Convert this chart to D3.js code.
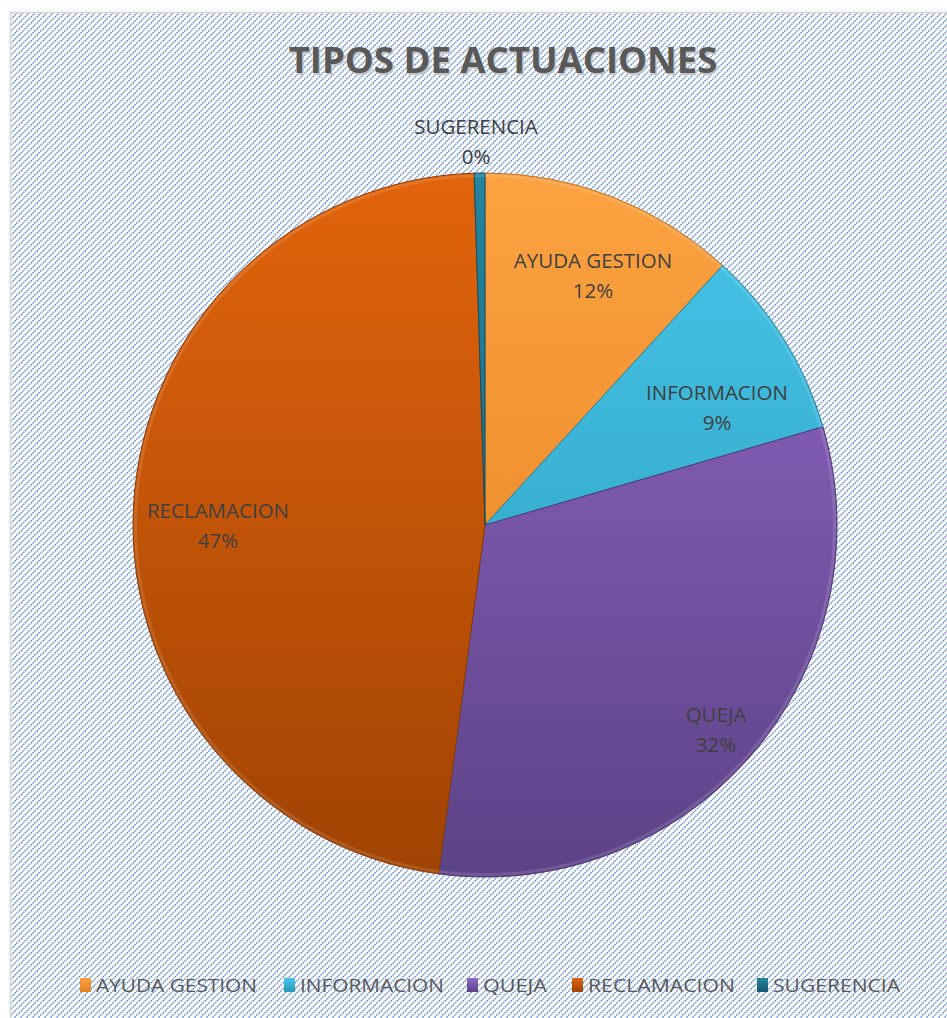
<!DOCTYPE html>
<html><head><meta charset="utf-8">
<script src="https://cdn.jsdelivr.net/npm/d3@7"></script>
<style>body{margin:0;background:#fff}svg{display:block}</style>
</head><body>
<script>
const categories = ["AYUDA GESTION","INFORMACION","QUEJA","RECLAMACION","SUGERENCIA"];
const values = [11.8, 8.7, 31.6, 47.4, 0.49];
const colorsTop = ["#fba241","#46c6ea","#9168c8","#e2640c","#2584a0"];
const colorsBot = ["#e5801f","#2a98b8","#5c4286","#a04303","#155a70"];
const title = "TIPOS DE ACTUACIONES";

const W = 947, H = 1018;
const svg = d3.select("body").append("svg").attr("width", W).attr("height", H);
const defs = svg.append("defs");

// hatch pattern
const P = 6;
const pat = defs.append("pattern").attr("id","hatch").attr("patternUnits","userSpaceOnUse")
  .attr("width",P).attr("height",P);
pat.append("rect").attr("width",P).attr("height",P).attr("fill","#ffffff");
pat.append("path").attr("d",`M-1,${P+1} L${P+1},-1 M-1,1 L1,-1 M${P-1},${P+1} L${P+1},${P-1}`)
  .attr("stroke","#5a88cc").attr("stroke-width",1.2).attr("stroke-dasharray","1.8,0.7");

svg.append("rect").attr("x",10.5).attr("y",12.5).attr("width",W).attr("height",H)
  .attr("fill","url(#hatch)").attr("stroke","#d4d4d4").attr("stroke-width",1.5);

const cx = 485, cy = 525, R = 352;

const pie = d3.pie().sort(null).value(d => d);
const arcs = pie(values);
const total = d3.sum(values);
const arc = d3.arc().innerRadius(0).outerRadius(R);

categories.forEach((c,i) => {
  const g = defs.append("linearGradient").attr("id","g"+i).attr("gradientUnits","userSpaceOnUse")
    .attr("x1",0).attr("y1",-R).attr("x2",0).attr("y2",R);
  g.append("stop").attr("offset","0%").attr("stop-color",colorsTop[i]);
  g.append("stop").attr("offset","100%").attr("stop-color",colorsBot[i]);
  const lg = defs.append("linearGradient").attr("id","lg"+i).attr("x1",0).attr("y1",0).attr("x2",0).attr("y2",1);
  lg.append("stop").attr("offset","0%").attr("stop-color",colorsTop[i]);
  lg.append("stop").attr("offset","100%").attr("stop-color",colorsBot[i]);
});

const pg = svg.append("g").attr("transform",`translate(${cx},${cy})`);
pg.selectAll("path.s").data(arcs).enter().append("path").attr("class","s")
  .attr("d",arc)
  .attr("fill",(d,i)=>"url(#g"+i+")")
  .attr("stroke",(d,i)=>d3.color(colorsBot[i]).darker(0.4))
  .attr("stroke-width",1);
// bevel highlight
pg.selectAll("path.b").data(arcs).enter().append("path").attr("class","b")
  .attr("d",d3.arc().innerRadius(R-4).outerRadius(R-1))
  .attr("fill","rgba(255,255,255,0.12)");

// title
const tf = "'Open Sans', 'DejaVu Sans', sans-serif";
svg.append("text").attr("x",503).attr("y",73).attr("text-anchor","middle")
  .attr("font-family",tf).attr("font-weight","bold")
  .attr("font-size",36.5).attr("fill","#c4c4c4").attr("transform","translate(1.5,1.5)").text(title);
svg.append("text").attr("x",503).attr("y",73).attr("text-anchor","middle")
  .attr("font-family",tf).attr("font-weight","bold")
  .attr("font-size",36.5).attr("fill","#595959").text(title);

// data labels
const labelPos = [[593,268],[717,400],[716,722],[218,518],[476,134]];
const fmt = d3.format(".0%");
const lab = svg.append("g").attr("font-family","'Open Sans', 'Noto Sans', sans-serif")
  .attr("font-size",20.5).attr("fill","#404040").attr("text-anchor","middle");
arcs.forEach((d,i) => {
  const t = lab.append("text").attr("x",labelPos[i][0]).attr("y",labelPos[i][1]);
  t.append("tspan").attr("x",labelPos[i][0]).attr("dy",0).text(categories[i]);
  t.append("tspan").attr("x",labelPos[i][0]).attr("dy",30).text(fmt(d.value/total));
});

// legend
const legX = [80, 284, 467, 572, 757];
const legW = [161, 144, 64, 147, 127];
const leg = svg.append("g").attr("font-family","'Liberation Sans Narrow','Open Sans', sans-serif")
  .attr("font-size",19).attr("fill","#595959");
categories.forEach((c,i) => {
  leg.append("rect").attr("x",legX[i]).attr("y",978).attr("width",11).attr("height",14)
    .attr("fill","url(#lg"+i+")");
  leg.append("text").attr("x",legX[i]+16).attr("y",992).attr("textLength",legW[i])
    .attr("lengthAdjust","spacingAndGlyphs").text(c);
});
</script>
</body></html>
